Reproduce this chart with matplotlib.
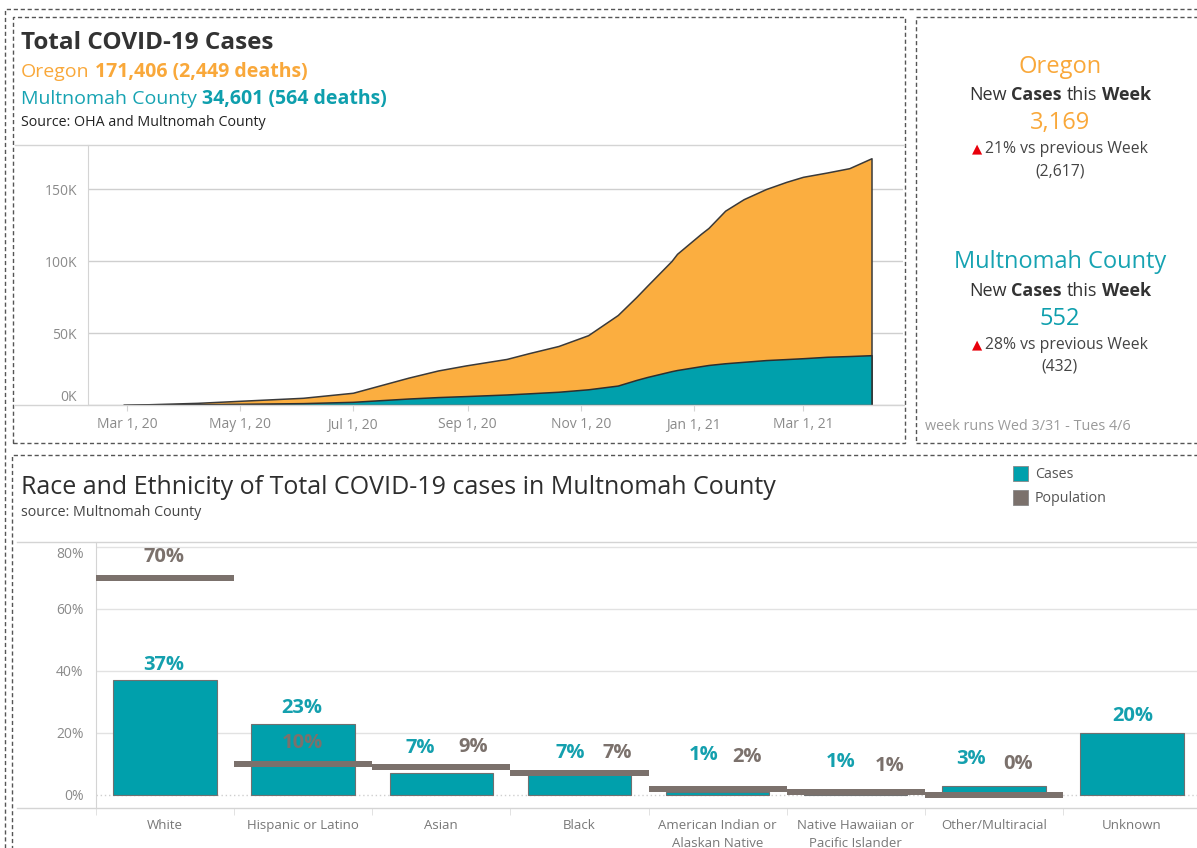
import numpy as np
import pandas as pd
import matplotlib
matplotlib.use("Agg")
import matplotlib.pyplot as plt
import matplotlib.dates as mdates
from matplotlib.patches import Rectangle
from matplotlib.lines import Line2D
from matplotlib.ticker import FuncFormatter

W, H = 1197, 848

# cumulative cases
dates = pd.to_datetime([
    "2020-02-28", "2020-04-08", "2020-06-04", "2020-07-01", "2020-07-31",
    "2020-08-16", "2020-08-31", "2020-09-22", "2020-10-04", "2020-10-20",
    "2020-11-05", "2020-11-21", "2020-12-01", "2020-12-07", "2020-12-20",
    "2020-12-23", "2021-01-05", "2021-01-09", "2021-01-18", "2021-01-28",
    "2021-02-09", "2021-02-20", "2021-03-01", "2021-03-14", "2021-03-26",
    "2021-04-07",
])
oregon_total = [0, 1500, 5000, 8500, 19000, 24000, 27500, 32000, 36000, 41000,
                48500, 62500, 75000, 83000, 100000, 105000, 119000, 123000,
                135000, 143000, 150000, 155000, 158500, 161500, 164500, 171406]
multnomah_total = [0, 500, 1300, 2200, 4500, 5500, 6200, 7300, 8100, 9200,
                   10900, 13500, 17400, 19500, 23500, 24300, 27000, 27800,
                   29000, 30000, 31200, 31900, 32500, 33500, 34000, 34601]

# race / ethnicity shares (%)
categories = ["White", "Hispanic or Latino", "Asian", "Black",
              "American Indian or\nAlaskan Native",
              "Native Hawaiian or\nPacific Islander",
              "Other/Multiracial", "Unknown"]
cases_pct = [37, 23, 7, 7, 1, 1, 3, 20]
pop_pct = [70, 10, 9, 7, 2, 1, 0, np.nan]

# label placement (pixels, relative to the mark)
case_dx = [-1, -1, -21, -9, -14, -15, -23, 1]
case_dy = [15, 16, 25, 20, 37, 30, 27, 17]
pop_dx = [-1, -1, 32, 38, 29, 34, 24, 0]
pop_dy = [21, 21, 20, 20, 32, 26, 31, 0]

ORANGE = "#FBAE40"
ORANGE_TXT = "#F9A83A"
TEAL = "#00A0AC"
TEAL_TXT = "#17A3B2"
GREY = "#7B716C"
DARK = "#333333"
FONT = "Open Sans"

plt.rcParams["font.family"] = [FONT, "DejaVu Sans"]

fig = plt.figure(figsize=(W / 100, H / 100), dpi=100)


def fx(x):
    return x / W


def fy(y):
    return 1 - y / H


def box(x1, y1, x2, y2):
    fig.add_artist(Rectangle((fx(x1), fy(y2)), (x2 - x1) / W, (y2 - y1) / H,
                             transform=fig.transFigure, fill=False,
                             ls=(0, (3, 2)), lw=1, ec="#555555"))


def hline(y, x1, x2, color="#d4d4d4"):
    fig.add_artist(Line2D([fx(x1), fx(x2)], [fy(y), fy(y)],
                          transform=fig.transFigure, color=color, lw=1))


def rich(x, y, parts, ha="left"):
    # parts: list of (text, kwargs); pieces are joined with a space
    r = fig.canvas.get_renderer()
    texts, widths, gaps = [], [], []
    for s, kw in parts:
        t = fig.text(0, fy(y), s, va="center", ha="left", **kw)
        texts.append(t)
        widths.append(t.get_window_extent(r).width)
        gaps.append(0.27 * kw.get("fontsize", 10) * 100 / 72)
    total = sum(widths) + sum(gaps[:-1])
    x0 = x - total / 2 if ha == "center" else x
    for t, w, g in zip(texts, widths, gaps):
        t.set_x(fx(x0))
        x0 += w + g


# ---------------- frames ----------------
box(5, 9, 1210, 860)
box(13, 17, 905, 443)
box(916, 17, 1210, 443)
box(12, 455, 1210, 860)

# ---------------- top-left: cumulative cases ----------------
fig.text(fx(21), fy(43), "Total COVID-19 Cases", fontsize=17.5, weight="bold",
         color=DARK, va="center")
rich(21, 72, [("Oregon", dict(fontsize=14, color=ORANGE_TXT)),
              ("171,406 (2,449 deaths)", dict(fontsize=14, color=ORANGE_TXT, weight="bold"))])
rich(21, 99, [("Multnomah County", dict(fontsize=14, color=TEAL_TXT)),
              ("34,601 (564 deaths)", dict(fontsize=14, color="#0E9FAD", weight="bold"))])
fig.text(fx(21), fy(123), "Source: OHA and Multnomah County", fontsize=10.3,
         color="#222222", va="center")

hline(145, 15, 904)
hline(405, 15, 904)

ax1 = fig.add_axes([fx(88), fy(405), (903 - 88) / W, (405 - 145) / H])
ax1.fill_between(dates, oregon_total, color=ORANGE, edgecolor="#3a3a3a", lw=1.1, zorder=2)
ax1.fill_between(dates, multnomah_total, color=TEAL, edgecolor="#2e2e2e", lw=1.1, zorder=3)
ax1.set_xlim(pd.Timestamp("2020-02-09"), pd.Timestamp("2021-04-24"))
ax1.set_ylim(0, 180600)
ax1.set_yticks([0, 50000, 100000, 150000])
ax1.yaxis.set_major_formatter(FuncFormatter(lambda v, p: f"{int(v / 1000)}K"))
xt = pd.to_datetime(["2020-03-01", "2020-05-01", "2020-07-01", "2020-09-01",
                     "2020-11-01", "2021-01-01", "2021-03-01"])
ax1.set_xticks(xt)
ax1.xaxis.set_major_formatter(mdates.DateFormatter("%b %-d, %y"))
ax1.grid(axis="y", color="#cfcfcf", lw=1)
ax1.set_axisbelow(True)
for s in ["top", "right", "bottom"]:
    ax1.spines[s].set_visible(False)
ax1.spines["left"].set_color("#d4d4d4")
ax1.tick_params(axis="y", length=0, pad=8, labelsize=10, labelcolor="#8a8a8a")
ax1.tick_params(axis="x", length=4, color="#d4d4d4", pad=5, labelsize=10,
                labelcolor="#8a8a8a")
ax1.get_yticklabels()[0].set_verticalalignment("bottom")

# ---------------- top-right: weekly numbers ----------------
cx = 1060
fig.text(fx(cx), fy(67), "Oregon", fontsize=17, color=ORANGE_TXT, ha="center", va="center")
fig.text(fx(cx), fy(123), "3,169", fontsize=17, color=ORANGE_TXT, ha="center", va="center")
fig.text(fx(cx), fy(262), "Multnomah County", fontsize=17, color=TEAL_TXT, ha="center", va="center")
fig.text(fx(cx), fy(319), "552", fontsize=17, color="#0E9FAD", ha="center", va="center")
for yy in (95, 291):
    rich(cx, yy, [("New", dict(fontsize=13, color=DARK)),
                  ("Cases", dict(fontsize=13, color=DARK, weight="bold")),
                  ("this", dict(fontsize=13, color=DARK)),
                  ("Week", dict(fontsize=13, color=DARK, weight="bold"))], ha="center")
for yy, txt in ((149, "21% vs previous Week"), (345, "28% vs previous Week")):
    rich(cx, yy, [("\u25B2", dict(fontsize=9.5, color="#e8000b", family=["DejaVu Sans"])),
                  (txt, dict(fontsize=11.3, color="#444444"))], ha="center")
fig.text(fx(cx), fy(171), "(2,617)", fontsize=11.3, color="#444444", ha="center", va="center")
fig.text(fx(cx), fy(367), "(432)", fontsize=11.3, color="#444444", ha="center", va="center")
fig.text(fx(925), fy(427), "week runs Wed 3/31 - Tues 4/6", fontsize=10.4,
         color="#9a9a9a", va="center")

# ---------------- bottom: race and ethnicity ----------------
fig.text(fx(21), fy(487), "Race and Ethnicity of Total COVID-19 cases in Multnomah County",
         fontsize=18, color="#2e2e2e", va="center")
fig.text(fx(21), fy(513), "source: Multnomah County", fontsize=10.3, color="#444444", va="center")

for yy, lab, col in ((474, "Cases", TEAL), (498, "Population", GREY)):
    fig.add_artist(Rectangle((fx(1013), fy(yy + 7)), 15 / W, 15 / H,
                             transform=fig.transFigure, fc=col, ec="#888888", lw=0.6))
    fig.text(fx(1035), fy(yy), lab, fontsize=10.3, color="#555555", va="center")

hline(542, 17, 1197)
hline(808, 17, 1197)

ax2 = fig.add_axes([fx(96), fy(808), (1201 - 96) / W, (808 - 542) / H])
x = np.arange(len(categories))
ax2.bar(x, cases_pct, width=0.75, color=TEAL, edgecolor="#707070", lw=0.8, zorder=2)
pop = np.array(pop_pct, dtype=float)
ok = ~np.isnan(pop)
ax2.bar(x[ok], 2.0, bottom=pop[ok] - 1.0, width=1.0, color=GREY, lw=0, zorder=3)

for i, v in enumerate(cases_pct):
    ax2.annotate(f"{v}%", xy=(i, v), xytext=(case_dx[i], case_dy[i]),
                 textcoords="offset pixels", ha="center", va="center",
                 fontsize=14.5, weight="bold", color="#14A0AE", zorder=5)
for i, v in enumerate(pop_pct):
    if np.isnan(v):
        continue
    ax2.annotate(f"{v:.0f}%", xy=(i, v), xytext=(pop_dx[i], pop_dy[i]),
                 textcoords="offset pixels", ha="center", va="center",
                 fontsize=14.5, weight="bold", color=GREY, zorder=5)

ax2.set_xlim(-0.5, len(categories) - 0.5)
ax2.set_ylim(-4.2, 81.6)
ax2.set_yticks([0, 20, 40, 60, 80])
ax2.yaxis.set_major_formatter(FuncFormatter(lambda v, p: f"{int(v)}%"))
ax2.grid(axis="y", color="#e2e2e2", lw=1)
ax2.set_axisbelow(True)
ax2.axhline(0, color="#cfcfcf", lw=1, ls=(0, (1, 2)), zorder=1)
ax2.set_xticks(x)
ax2.set_xticklabels(categories)
ax2.set_xticks(np.arange(len(categories)) - 0.5, minor=True)
for s in ["top", "right", "bottom"]:
    ax2.spines[s].set_visible(False)
ax2.spines["left"].set_color("#d4d4d4")
ax2.tick_params(axis="x", which="major", length=0, pad=8, labelsize=9.5, labelcolor="#777777")
ax2.tick_params(axis="x", which="minor", length=5, color="#dddddd")
ax2.tick_params(axis="y", length=0, pad=9, labelsize=10, labelcolor="#8a8a8a")
ax2.get_yticklabels()[-1].set_verticalalignment("top")
for t in ax2.get_xticklabels():
    t.set_linespacing(1.5)
ygl = ax2.get_ygridlines()
ygl[0].set_visible(False)

fig.savefig("out.png", dpi=100)
